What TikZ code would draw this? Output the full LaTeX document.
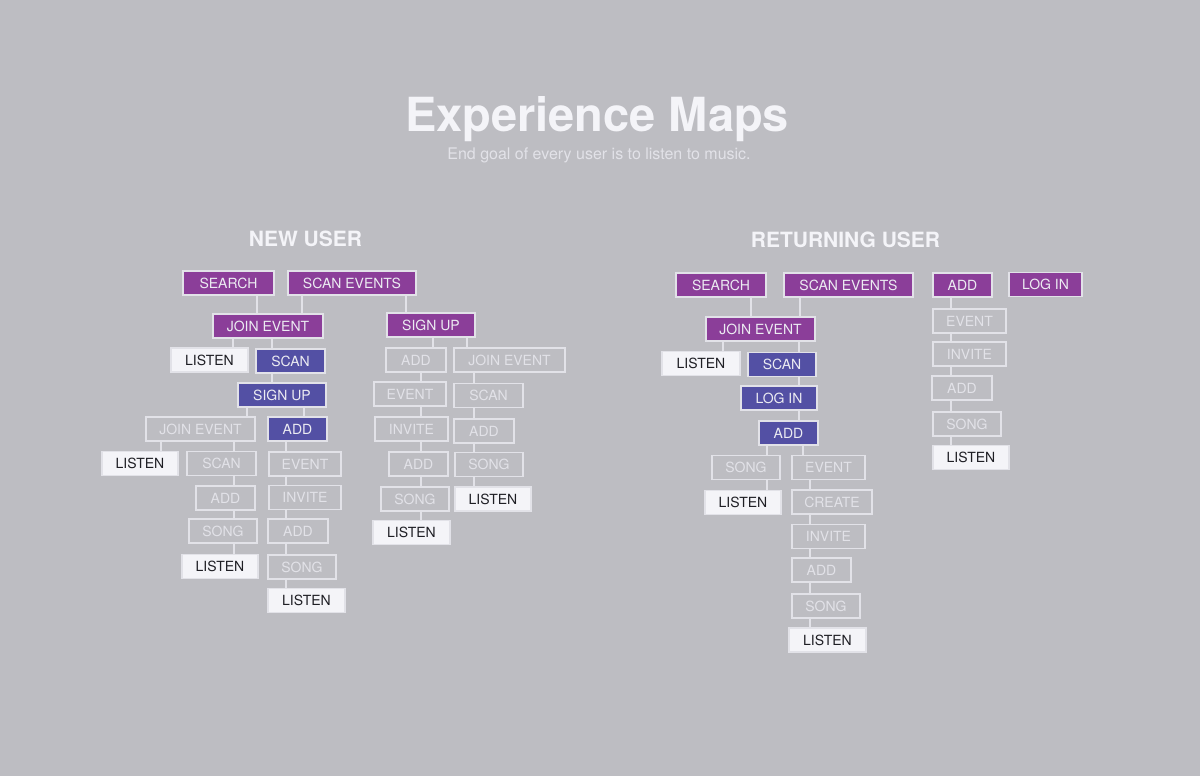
\documentclass[tikz,border=0pt]{standalone}
\usepackage{fontspec}
\setmainfont{TeX Gyre Heros}
\usetikzlibrary{positioning}
\definecolor{bg}{RGB}{189,189,194}
\definecolor{purp}{RGB}{139,62,153}
\definecolor{blu}{RGB}{83,80,164}
\definecolor{edge}{RGB}{226,226,232}
\definecolor{lite}{RGB}{236,236,242}
\definecolor{faint}{RGB}{226,226,232}
\definecolor{paper}{RGB}{244,244,248}
\definecolor{ink}{RGB}{30,30,36}

\begin{document}
\begin{tikzpicture}[x=1pt, y=-1pt,
  box/.style={draw=edge, line width=1.2pt, minimum height=24pt, minimum width=#1pt, inner sep=0pt,
    text height=10pt, text depth=0pt, font=\fontsize{14}{14}\selectfont},
  entry/.style={box=#1, fill=purp, text=lite},
  via/.style={box=#1, fill=blu, text=lite},
  opt/.style={box=#1, text=faint},
  goal/.style={box=#1, fill=paper, text=ink},
  head/.style={anchor=base, text=paper, font=\fontsize{21}{21}\selectfont\bfseries},
  link/.style={draw=edge, line width=1.2pt}]
\fill[bg] (0,0) rectangle (1200,776);
\node[anchor=base, text=paper, font=\fontsize{47}{47}\selectfont\bfseries] (title) at (597,131) {Experience Maps};
\node[anchor=base, text=faint, font=\fontsize{16}{16}\selectfont] (sub) at (599,159.5) {End goal of every user is to listen to music.};
\node[head] (newh) at (305.5,246) {NEW USER};
\node[head] (reth) at (845.5,247.5) {RETURNING USER};

\node[entry=91] (nsearch) at (228.5,283) {SEARCH};
\node[entry=128] (nscanev) at (352,283) {SCAN EVENTS};
\node[entry=110] (njoin) at (268,326) {JOIN EVENT};
\node[goal=77] (nlisten1) at (209.5,360) {LISTEN};
\node[via=69] (nscan) at (290.5,361) {SCAN};
\node[via=88] (nsignup) at (282,395) {SIGN UP};
\node[opt=109] (njoin2) at (200.5,429) {JOIN EVENT};
\node[via=59] (nadd) at (297.5,429) {ADD};
\node[goal=76] (nlisten2) at (140,463.5) {LISTEN};
\node[opt=69] (nscan2) at (221.5,463.5) {SCAN};
\node[opt=59] (nadd2) at (225.5,498) {ADD};
\node[opt=68] (nsong2) at (223,531) {SONG};
\node[goal=76] (nlisten3) at (220,566.5) {LISTEN};
\node[opt=72] (nevent) at (305,464) {EVENT};
\node[opt=72] (ninvite) at (305,497.5) {INVITE};
\node[opt=60] (nadd3) at (298,531) {ADD};
\node[opt=68] (nsong3) at (302,567) {SONG};
\node[goal=77] (nlisten4) at (306.5,600.5) {LISTEN};
\node[entry=88] (nsignup2) at (431,325) {SIGN UP};
\node[opt=60] (nadd4) at (416,360) {ADD};
\node[opt=111] (njoin3) at (509.5,360) {JOIN EVENT};
\node[opt=72] (nevent2) at (410,394) {EVENT};
\node[opt=73] (ninvite2) at (411.5,429) {INVITE};
\node[opt=59] (nadd5) at (418.5,464) {ADD};
\node[opt=68] (nsong4) at (415,499) {SONG};
\node[goal=77] (nlisten5) at (411.5,532.5) {LISTEN};
\node[opt=69] (nscan3) at (488.5,395.5) {SCAN};
\node[opt=60] (nadd6) at (484,431) {ADD};
\node[opt=68] (nsong5) at (489,464.5) {SONG};
\node[goal=76] (nlisten6) at (493,499) {LISTEN};

\draw[link] (nsearch.south -| 257,0) -- (njoin.north -| 257,0); \draw[link] (nscanev.south -| 302,0) -- (njoin.north -| 302,0);
\draw[link] (njoin.south -| 233,0) -- (nlisten1.north -| 233,0); \draw[link] (njoin.south -| 272,0) -- (nscan.north -| 272,0);
\draw[link] (nscan.south -| 272,0) -- (nsignup.north -| 272,0);
\draw[link] (nsignup.south -| 247,0) -- (njoin2.north -| 247,0); \draw[link] (nsignup.south -| 304,0) -- (nadd.north -| 304,0);
\draw[link] (njoin2.south -| 161,0) -- (nlisten2.north -| 161,0); \draw[link] (njoin2.south -| 234,0) -- (nscan2.north -| 234,0);
\draw[link] (nscan2.south -| 234,0) -- (nadd2.north -| 234,0); \draw[link] (nadd2.south -| 234,0) -- (nsong2.north -| 234,0);
\draw[link] (nsong2.south -| 234,0) -- (nlisten3.north -| 234,0);
\draw[link] (nadd.south -| 286,0) -- (nevent.north -| 286,0); \draw[link] (nevent.south -| 286,0) -- (ninvite.north -| 286,0);
\draw[link] (ninvite.south -| 286,0) -- (nadd3.north -| 286,0); \draw[link] (nadd3.south -| 286,0) -- (nsong3.north -| 286,0);
\draw[link] (nsong3.south -| 286,0) -- (nlisten4.north -| 286,0);
\draw[link] (nscanev.south -| 406,0) -- (nsignup2.north -| 406,0);
\draw[link] (nsignup2.south -| 433,0) -- (nadd4.north -| 433,0); \draw[link] (nsignup2.south -| 467,0) -- (njoin3.north -| 467,0);
\draw[link] (nadd4.south -| 421,0) -- (nevent2.north -| 421,0); \draw[link] (nevent2.south -| 421,0) -- (ninvite2.north -| 421,0);
\draw[link] (ninvite2.south -| 421,0) -- (nadd5.north -| 421,0); \draw[link] (nadd5.south -| 421,0) -- (nsong4.north -| 421,0);
\draw[link] (nsong4.south -| 421,0) -- (nlisten5.north -| 421,0);
\draw[link] (njoin3.south -| 474,0) -- (nscan3.north -| 474,0); \draw[link] (nscan3.south -| 474,0) -- (nadd6.north -| 474,0);
\draw[link] (nadd6.south -| 474,0) -- (nsong5.north -| 474,0); \draw[link] (nsong5.south -| 474,0) -- (nlisten6.north -| 474,0);

\node[entry=90] (rsearch) at (721,285) {SEARCH};
\node[entry=129] (rscanev) at (848.5,285) {SCAN EVENTS};
\node[entry=109] (rjoin) at (760.5,329) {JOIN EVENT};
\node[goal=78] (rlisten1) at (701,363.5) {LISTEN};
\node[via=68] (rscan) at (782,364.5) {SCAN};
\node[via=76] (rlogin) at (779,398) {LOG IN};
\node[via=59] (radd) at (788.5,433) {ADD};
\node[opt=68] (rsong) at (746,467.5) {SONG};
\node[goal=76] (rlisten2) at (743,502.5) {LISTEN};
\node[opt=73] (revent) at (828.5,467.5) {EVENT};
\node[opt=80] (rcreate) at (832,502) {CREATE};
\node[opt=73] (rinvite) at (828.5,536.5) {INVITE};
\node[opt=59] (radd2) at (821.5,570) {ADD};
\node[opt=68] (rsong2) at (826,606) {SONG};
\node[goal=77] (rlisten3) at (827.5,640) {LISTEN};
\node[entry=59] (radd3) at (962.5,285) {ADD};
\node[entry=73] (rlogin2) at (1045.5,284.5) {LOG IN};
\node[opt=73] (revent2) at (969.5,321) {EVENT};
\node[opt=73] (rinvite2) at (969.5,354) {INVITE};
\node[opt=60] (radd4) at (962,388) {ADD};
\node[opt=68] (rsong3) at (967,424) {SONG};
\node[goal=76] (rlisten4) at (971,457.5) {LISTEN};

\draw[link] (rsearch.south -| 751,0) -- (rjoin.north -| 751,0); \draw[link] (rscanev.south -| 800,0) -- (rjoin.north -| 800,0);
\draw[link] (rjoin.south -| 723,0) -- (rlisten1.north -| 723,0); \draw[link] (rjoin.south -| 799,0) -- (rscan.north -| 799,0);
\draw[link] (rscan.south -| 799,0) -- (rlogin.north -| 799,0); \draw[link] (rlogin.south -| 799,0) -- (radd.north -| 799,0);
\draw[link] (radd.south -| 767,0) -- (rsong.north -| 767,0); \draw[link] (radd.south -| 803,0) -- (revent.north -| 803,0);
\draw[link] (rsong.south -| 767,0) -- (rlisten2.north -| 767,0);
\draw[link] (revent.south -| 810,0) -- (rcreate.north -| 810,0); \draw[link] (rcreate.south -| 810,0) -- (rinvite.north -| 810,0);
\draw[link] (rinvite.south -| 810,0) -- (radd2.north -| 810,0); \draw[link] (radd2.south -| 810,0) -- (rsong2.north -| 810,0);
\draw[link] (rsong2.south -| 810,0) -- (rlisten3.north -| 810,0);
\draw[link] (radd3.south -| 951,0) -- (revent2.north -| 951,0); \draw[link] (revent2.south -| 951,0) -- (rinvite2.north -| 951,0);
\draw[link] (rinvite2.south -| 951,0) -- (radd4.north -| 951,0); \draw[link] (radd4.south -| 951,0) -- (rsong3.north -| 951,0);
\draw[link] (rsong3.south -| 951,0) -- (rlisten4.north -| 951,0);
\end{tikzpicture}
\end{document}
